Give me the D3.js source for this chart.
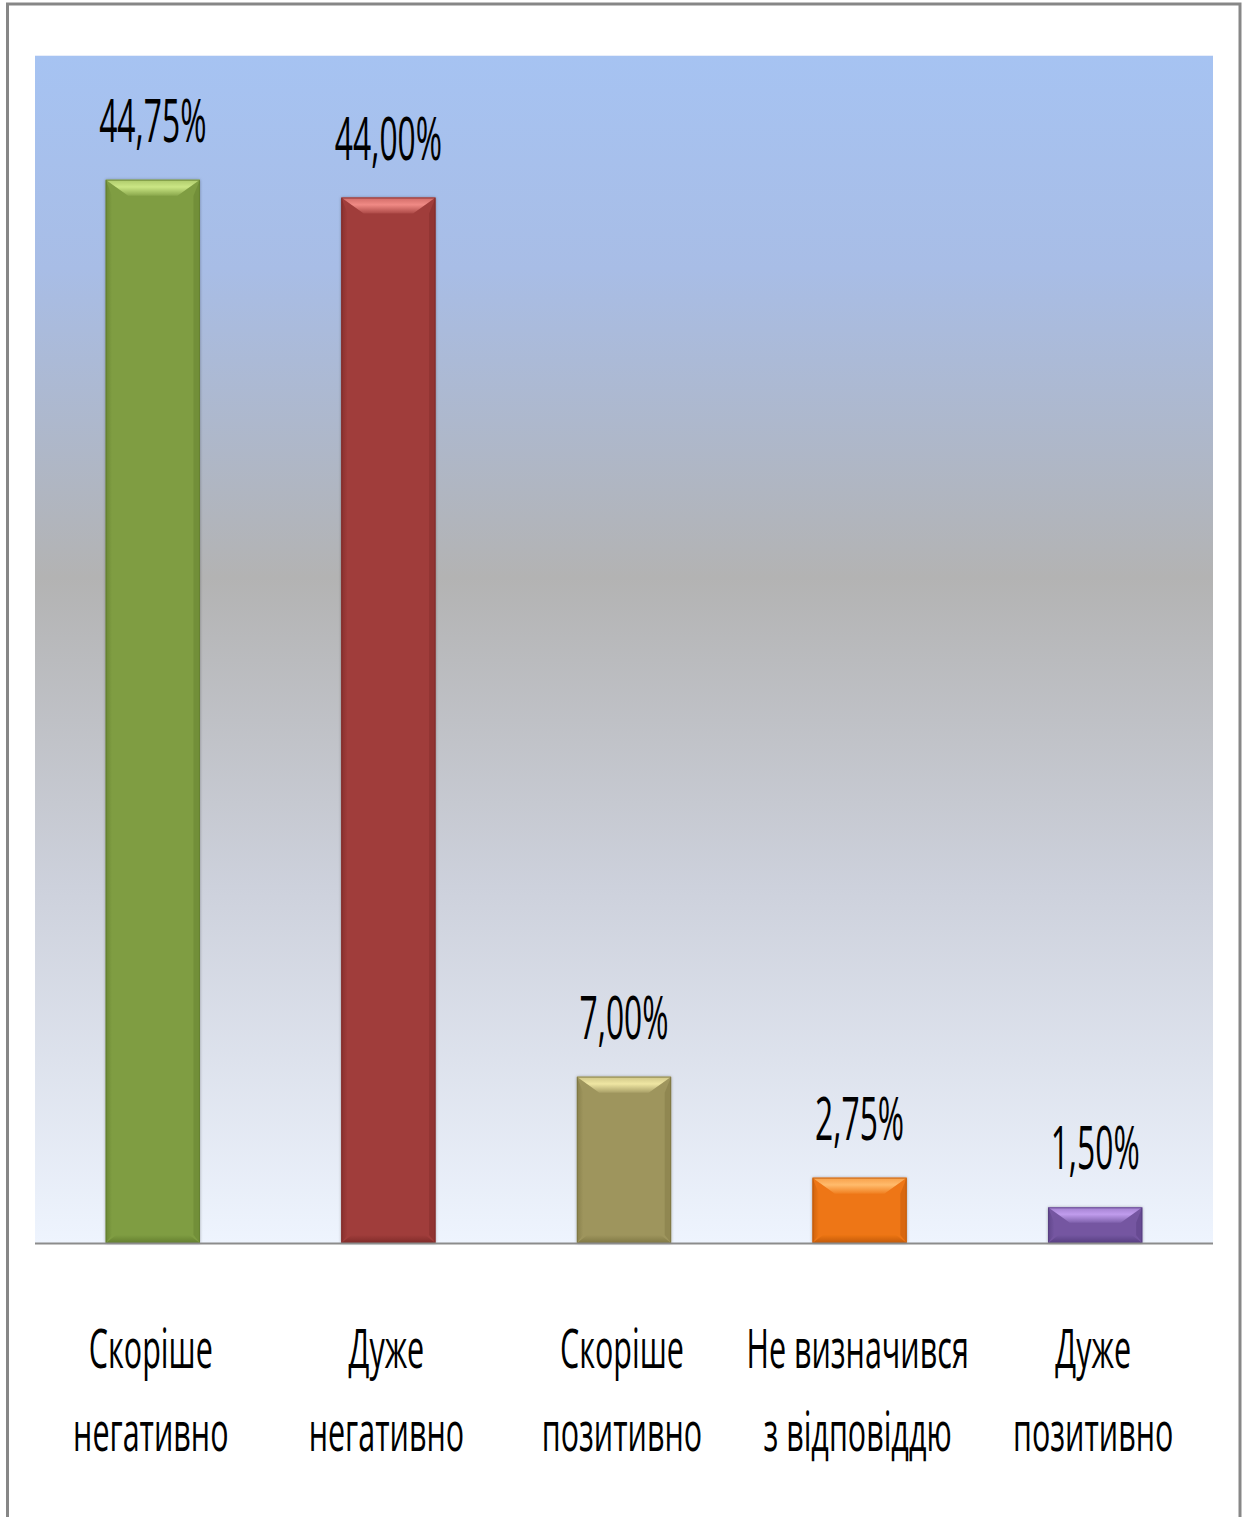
<!DOCTYPE html>
<html>
<head>
<meta charset="utf-8">
<script src="https://cdn.jsdelivr.net/npm/d3@7"></script>
<style>
  html, body { margin: 0; padding: 0; background: #ffffff; }
  svg { display: block; }
  text { font-family: "Open Sans", "Noto Sans", sans-serif; fill: #000; }
</style>
</head>
<body>
<svg id="chart" width="1247" height="1517"></svg>
<script>
// ---- data ----
const categories = [
  ["Скоріше", "негативно"],
  ["Дуже", "негативно"],
  ["Скоріше", "позитивно"],
  ["Не визначився", "з відповіддю"],
  ["Дуже", "позитивно"]
];
const values = [44.75, 44.00, 7.00, 2.75, 1.50];
const barColors = ["#7f9d42", "#a03d3b", "#9e955d", "#ee7612", "#7457a1"];
const barLight  = ["#cbe685", "#f08a85", "#efe6a3", "#ffbb6c", "#c09ced"];
const barDark   = ["#5f7a2c", "#7a2826", "#7b7340", "#b95508", "#533a7c"];
const yDomain = [0, 50];

// ---- layout ----
const W = 1247, H = 1517;
const plot = { left: 35, right: 1213, top: 55, bottom: 1243 };

const svg = d3.select("#chart");
const defs = svg.append("defs");

// background gradient
const bg = defs.append("linearGradient").attr("id", "bgGrad")
  .attr("x1", 0).attr("y1", 0).attr("x2", 0).attr("y2", 1);
[["0%", "#a6c3f2"], ["18%", "#a8bde6"], ["44%", "#b3b3b3"], ["70%", "#cdd1dc"], ["100%", "#eef4fe"]]
  .forEach(([o, c]) => bg.append("stop").attr("offset", o).attr("stop-color", c));

// drop shadow
const f = defs.append("filter").attr("id", "shadow").attr("x", "-10%").attr("y", "-10%")
  .attr("width", "120%").attr("height", "120%");
f.append("feDropShadow").attr("dx", 0).attr("dy", 0).attr("stdDeviation", 1.6)
  .attr("flood-color", "#000").attr("flood-opacity", 0.35);

// per-bar gradients for bevels
values.forEach((v, i) => {
  const g = defs.append("linearGradient").attr("id", "top" + i)
    .attr("x1", 0).attr("y1", 0).attr("x2", 0).attr("y2", 1);
  g.append("stop").attr("offset", "0%").attr("stop-color", d3.interpolateRgb(barColors[i], barLight[i])(0.6));
  g.append("stop").attr("offset", "45%").attr("stop-color", barLight[i]);
  g.append("stop").attr("offset", "100%").attr("stop-color", d3.interpolateRgb(barColors[i], barLight[i])(0.15));
  const s = defs.append("linearGradient").attr("id", "side" + i)
    .attr("x1", 0).attr("y1", 0).attr("x2", 1).attr("y2", 0);
  s.append("stop").attr("offset", "0%").attr("stop-color", barDark[i]);
  s.append("stop").attr("offset", "100%").attr("stop-color", barColors[i]);
  const b = defs.append("linearGradient").attr("id", "bot" + i)
    .attr("x1", 0).attr("y1", 0).attr("x2", 0).attr("y2", 1);
  b.append("stop").attr("offset", "0%").attr("stop-color", barColors[i]);
  b.append("stop").attr("offset", "100%").attr("stop-color", barDark[i]);
});

// outer frame
svg.append("rect").attr("x", 7.5).attr("y", 4).attr("width", 1232.5).attr("height", H + 20)
  .attr("fill", "#ffffff").attr("stroke", "#878787").attr("stroke-width", 3);

// plot background
svg.append("rect").attr("x", plot.left).attr("y", plot.top)
  .attr("width", plot.right - plot.left).attr("height", plot.bottom - plot.top)
  .attr("fill", "url(#bgGrad)");
svg.append("line").attr("x1", plot.left).attr("x2", plot.right)
  .attr("y1", plot.top + 0.5).attr("y2", plot.top + 0.5)
  .attr("stroke", "#e8eefa").attr("stroke-width", 1);

// scales
const x = d3.scaleBand().domain(d3.range(values.length))
  .range([plot.left, plot.right]).paddingInner(0.6).paddingOuter(0.3);
const y = d3.scaleLinear().domain(yDomain).range([plot.bottom, plot.top]);

const fmt = d3.formatLocale({ decimal: ",", thousands: " ", grouping: [3], currency: ["", ""] }).format(".2f");

// bars
const bars = svg.append("g").selectAll("g.bar").data(values).join("g").attr("class", "bar");
bars.each(function (v, i) {
  const g = d3.select(this);
  const x0 = x(i), w = x.bandwidth();
  const y0 = y(v), h = y(0) - y(v);
  const b = Math.min(16, h / 2.3);
  const bb = Math.min(8, h / 4);
  g.append("rect").attr("x", x0).attr("y", y0).attr("width", w).attr("height", h)
    .attr("fill", barColors[i]).attr("filter", "url(#shadow)");
  // left side bevel
  g.append("polygon").attr("points", [[x0, y0], [x0 + b * 0.4, y0 + b], [x0 + b * 0.4, y0 + h - bb], [x0, y0 + h]].join(" "))
    .attr("fill", "url(#side" + i + ")").attr("opacity", 0.6);
  // right side bevel
  g.append("polygon").attr("points", [[x0 + w, y0], [x0 + w - b * 0.4, y0 + b], [x0 + w - b * 0.4, y0 + h - bb], [x0 + w, y0 + h]].join(" "))
    .attr("fill", barDark[i]).attr("opacity", 0.4);
  // top bevel
  g.append("polygon").attr("points", [[x0, y0], [x0 + w, y0], [x0 + w - b * 1.4, y0 + b], [x0 + b * 1.4, y0 + b]].join(" "))
    .attr("fill", "url(#top" + i + ")");
  // bottom bevel
  g.append("polygon").attr("points", [[x0 + bb * 1.3, y0 + h - bb], [x0 + w - bb * 1.3, y0 + h - bb], [x0 + w, y0 + h], [x0, y0 + h]].join(" "))
    .attr("fill", "url(#bot" + i + ")").attr("opacity", 0.85);
  g.append("rect").attr("x", x0 + 0.5).attr("y", y0 + 0.5).attr("width", w - 1).attr("height", h - 1)
    .attr("fill", "none").attr("stroke", barDark[i]).attr("stroke-width", 1).attr("opacity", 0.7);
});

// baseline
svg.append("line").attr("x1", plot.left).attr("x2", plot.right)
  .attr("y1", y(0) + 0.5).attr("y2", y(0) + 0.5)
  .attr("stroke", "#8c8c8c").attr("stroke-width", 2);

// value labels
svg.append("g").selectAll("g").data(values).join("g")
  .attr("transform", (v, i) => `translate(${x(i) + x.bandwidth() / 2},${y(v) - 38}) scale(0.53,1)`)
  .append("text").attr("text-anchor", "middle").attr("font-size", 60)
  .text(v => fmt(v) + "%");

// category labels
const cat = svg.append("g").selectAll("g").data(categories).join("g")
  .attr("transform", (d, i) => `translate(${x(i) + x.bandwidth() / 2 - 2},0) scale(0.565,1)`);
cat.append("text").attr("text-anchor", "middle").attr("font-size", 54).attr("y", 1368).text(d => d[0]);
cat.append("text").attr("text-anchor", "middle").attr("font-size", 54).attr("y", 1451).text(d => d[1]);
</script>
</body>
</html>
